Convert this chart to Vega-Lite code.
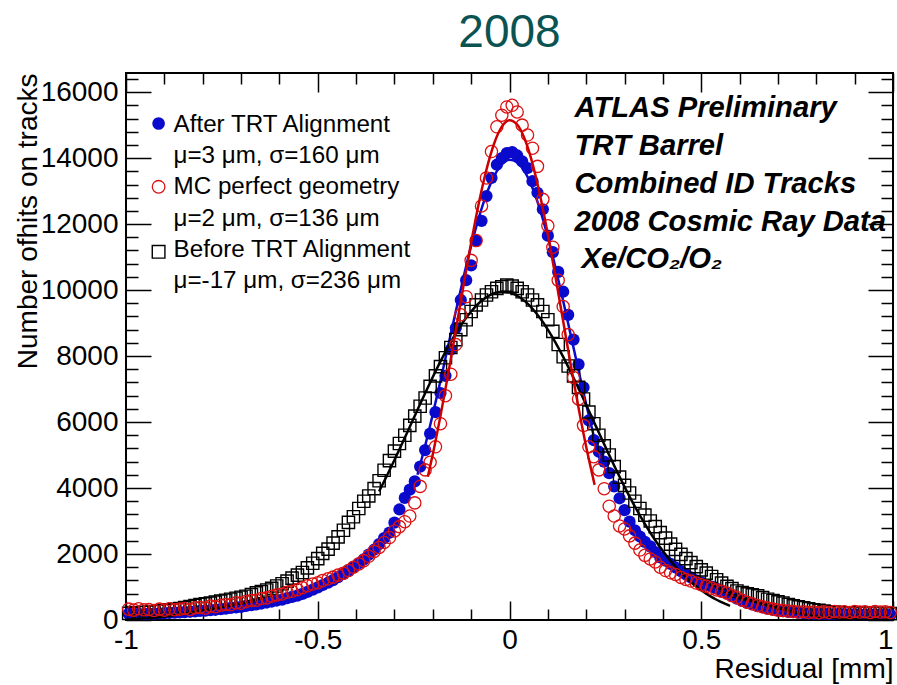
{
  "$schema": "https://vega.github.io/schema/vega-lite/v6.json",
  "width": 767,
  "height": 547,
  "autosize": {"type": "none"},
  "padding": {"left": 126, "top": 73, "right": 4, "bottom": 65},
  "background": "white",
  "title": {"text": "2008", "fontSize": 46, "font": "Liberation Sans", "fontWeight": "normal", "color": "#0b5352", "anchor": "middle", "offset": 8},
  "config": {
    "font": "Liberation Sans",
    "view": {"stroke": "#000", "strokeWidth": 2},
    "axis": {"domain": false, "grid": false, "labelFont": "Liberation Sans", "labelFontSize": 28, "labelColor": "#000", "tickColor": "#000", "tickWidth": 1.5, "titleFont": "Liberation Sans", "titleFontSize": 28, "titleFontWeight": "normal", "titleColor": "#000", "labelOverlap": false, "labelFlush": false, "labelBound": false}
  },
  "datasets": {
    "hist": [
      {"x":-0.993,"after":190,"mc":330,"before":200},
      {"x":-0.980,"after":175,"mc":300,"before":215},
      {"x":-0.967,"after":185,"mc":340,"before":220},
      {"x":-0.953,"after":180,"mc":310,"before":230},
      {"x":-0.940,"after":195,"mc":320,"before":240},
      {"x":-0.927,"after":190,"mc":290,"before":255},
      {"x":-0.913,"after":200,"mc":330,"before":270},
      {"x":-0.900,"after":205,"mc":300,"before":290},
      {"x":-0.887,"after":215,"mc":340,"before":305},
      {"x":-0.873,"after":220,"mc":310,"before":325},
      {"x":-0.860,"after":230,"mc":330,"before":350},
      {"x":-0.847,"after":235,"mc":350,"before":380},
      {"x":-0.833,"after":250,"mc":320,"before":410},
      {"x":-0.820,"after":260,"mc":370,"before":440},
      {"x":-0.807,"after":275,"mc":380,"before":470},
      {"x":-0.793,"after":285,"mc":360,"before":490},
      {"x":-0.780,"after":300,"mc":420,"before":510},
      {"x":-0.767,"after":310,"mc":400,"before":540},
      {"x":-0.753,"after":330,"mc":450,"before":570},
      {"x":-0.740,"after":345,"mc":470,"before":600},
      {"x":-0.727,"after":365,"mc":460,"before":630},
      {"x":-0.713,"after":380,"mc":520,"before":660},
      {"x":-0.700,"after":400,"mc":510,"before":690},
      {"x":-0.687,"after":425,"mc":560,"before":720},
      {"x":-0.673,"after":450,"mc":590,"before":770},
      {"x":-0.660,"after":470,"mc":600,"before":820},
      {"x":-0.647,"after":500,"mc":650,"before":860},
      {"x":-0.633,"after":530,"mc":670,"before":910},
      {"x":-0.620,"after":560,"mc":720,"before":960},
      {"x":-0.607,"after":590,"mc":760,"before":1030},
      {"x":-0.593,"after":620,"mc":790,"before":1100},
      {"x":-0.580,"after":660,"mc":840,"before":1180},
      {"x":-0.567,"after":700,"mc":870,"before":1270},
      {"x":-0.553,"after":740,"mc":920,"before":1360},
      {"x":-0.540,"after":790,"mc":980,"before":1440},
      {"x":-0.527,"after":850,"mc":1040,"before":1580},
      {"x":-0.513,"after":920,"mc":1090,"before":1720},
      {"x":-0.500,"after":990,"mc":1130,"before":1860},
      {"x":-0.487,"after":1060,"mc":1200,"before":2020},
      {"x":-0.473,"after":1130,"mc":1250,"before":2150},
      {"x":-0.460,"after":1210,"mc":1300,"before":2330},
      {"x":-0.447,"after":1300,"mc":1360,"before":2520},
      {"x":-0.433,"after":1400,"mc":1420,"before":2720},
      {"x":-0.420,"after":1490,"mc":1500,"before":2960},
      {"x":-0.407,"after":1600,"mc":1600,"before":3130},
      {"x":-0.393,"after":1720,"mc":1700,"before":3380},
      {"x":-0.380,"after":1840,"mc":1800,"before":3600},
      {"x":-0.367,"after":1980,"mc":1930,"before":3760},
      {"x":-0.353,"after":2130,"mc":2080,"before":3980},
      {"x":-0.340,"after":2300,"mc":2200,"before":4220},
      {"x":-0.327,"after":2480,"mc":2350,"before":4540},
      {"x":-0.313,"after":2650,"mc":2500,"before":4830},
      {"x":-0.300,"after":2950,"mc":2700,"before":5120},
      {"x":-0.287,"after":3350,"mc":2830,"before":5350},
      {"x":-0.273,"after":3700,"mc":2980,"before":5600},
      {"x":-0.260,"after":3950,"mc":3150,"before":5900},
      {"x":-0.247,"after":4200,"mc":3550,"before":6180},
      {"x":-0.233,"after":4650,"mc":4050,"before":6480},
      {"x":-0.220,"after":5150,"mc":4550,"before":6730},
      {"x":-0.207,"after":5650,"mc":4780,"before":7080},
      {"x":-0.193,"after":6300,"mc":5250,"before":7400},
      {"x":-0.180,"after":6880,"mc":5950,"before":7680},
      {"x":-0.167,"after":7400,"mc":6800,"before":7950},
      {"x":-0.153,"after":8200,"mc":7450,"before":8260},
      {"x":-0.140,"after":8850,"mc":8350,"before":8500},
      {"x":-0.127,"after":9700,"mc":9250,"before":8800},
      {"x":-0.113,"after":10300,"mc":9800,"before":9100},
      {"x":-0.100,"after":10750,"mc":10900,"before":9350},
      {"x":-0.087,"after":11500,"mc":11500,"before":9550},
      {"x":-0.073,"after":12100,"mc":12550,"before":9700},
      {"x":-0.060,"after":12850,"mc":13400,"before":9850},
      {"x":-0.047,"after":13400,"mc":14200,"before":9950},
      {"x":-0.033,"after":13800,"mc":14950,"before":10050},
      {"x":-0.020,"after":14000,"mc":15300,"before":10100},
      {"x":-0.007,"after":14150,"mc":15550,"before":10150},
      {"x":0.007,"after":14180,"mc":15600,"before":10120},
      {"x":0.020,"after":14080,"mc":15400,"before":10050},
      {"x":0.033,"after":13900,"mc":15000,"before":9950},
      {"x":0.047,"after":13700,"mc":14700,"before":9850},
      {"x":0.060,"after":13300,"mc":14300,"before":9700},
      {"x":0.073,"after":12950,"mc":13750,"before":9550},
      {"x":0.087,"after":12450,"mc":12750,"before":9350},
      {"x":0.100,"after":11650,"mc":11950,"before":9100},
      {"x":0.113,"after":11150,"mc":11300,"before":8750},
      {"x":0.127,"after":10550,"mc":10300,"before":8350},
      {"x":0.140,"after":9950,"mc":9500,"before":7980},
      {"x":0.153,"after":9250,"mc":8650,"before":7700},
      {"x":0.167,"after":8500,"mc":7350,"before":7400},
      {"x":0.180,"after":7750,"mc":6700,"before":7050},
      {"x":0.193,"after":7050,"mc":5900,"before":6700},
      {"x":0.207,"after":6050,"mc":5250,"before":6300},
      {"x":0.220,"after":5450,"mc":4950,"before":5950},
      {"x":0.233,"after":5100,"mc":4550,"before":5600},
      {"x":0.247,"after":4800,"mc":3980,"before":5280},
      {"x":0.260,"after":4450,"mc":3450,"before":5000},
      {"x":0.273,"after":4050,"mc":3150,"before":4650},
      {"x":0.287,"after":3690,"mc":2850,"before":4330},
      {"x":0.300,"after":3330,"mc":2760,"before":4080},
      {"x":0.313,"after":2980,"mc":2550,"before":3850},
      {"x":0.327,"after":2720,"mc":2330,"before":3600},
      {"x":0.340,"after":2530,"mc":2120,"before":3380},
      {"x":0.353,"after":2370,"mc":1960,"before":3180},
      {"x":0.367,"after":2230,"mc":1850,"before":3000},
      {"x":0.380,"after":2060,"mc":1760,"before":2830},
      {"x":0.393,"after":1900,"mc":1600,"before":2650},
      {"x":0.407,"after":1800,"mc":1500,"before":2480},
      {"x":0.420,"after":1700,"mc":1430,"before":2300},
      {"x":0.433,"after":1590,"mc":1380,"before":2140},
      {"x":0.447,"after":1480,"mc":1290,"before":1990},
      {"x":0.460,"after":1380,"mc":1230,"before":1860},
      {"x":0.473,"after":1290,"mc":1180,"before":1740},
      {"x":0.487,"after":1200,"mc":1120,"before":1620},
      {"x":0.500,"after":1140,"mc":1070,"before":1520},
      {"x":0.513,"after":1060,"mc":1020,"before":1420},
      {"x":0.527,"after":1010,"mc":960,"before":1320},
      {"x":0.540,"after":950,"mc":910,"before":1220},
      {"x":0.553,"after":870,"mc":870,"before":1120},
      {"x":0.567,"after":800,"mc":820,"before":1020},
      {"x":0.580,"after":720,"mc":740,"before":950},
      {"x":0.593,"after":650,"mc":680,"before":880},
      {"x":0.607,"after":580,"mc":600,"before":830},
      {"x":0.620,"after":520,"mc":540,"before":790},
      {"x":0.633,"after":470,"mc":490,"before":760},
      {"x":0.647,"after":420,"mc":440,"before":730},
      {"x":0.660,"after":380,"mc":400,"before":680},
      {"x":0.673,"after":350,"mc":360,"before":630},
      {"x":0.687,"after":310,"mc":330,"before":590},
      {"x":0.700,"after":290,"mc":300,"before":550},
      {"x":0.713,"after":270,"mc":290,"before":510},
      {"x":0.727,"after":250,"mc":270,"before":470},
      {"x":0.740,"after":235,"mc":260,"before":430},
      {"x":0.753,"after":225,"mc":240,"before":400},
      {"x":0.767,"after":210,"mc":250,"before":370},
      {"x":0.780,"after":200,"mc":230,"before":340},
      {"x":0.793,"after":195,"mc":240,"before":310},
      {"x":0.807,"after":190,"mc":220,"before":290},
      {"x":0.820,"after":190,"mc":250,"before":270},
      {"x":0.833,"after":185,"mc":230,"before":250},
      {"x":0.847,"after":180,"mc":260,"before":235},
      {"x":0.860,"after":185,"mc":240,"before":225},
      {"x":0.873,"after":175,"mc":250,"before":215},
      {"x":0.887,"after":180,"mc":230,"before":210},
      {"x":0.900,"after":170,"mc":260,"before":205},
      {"x":0.913,"after":175,"mc":240,"before":200},
      {"x":0.927,"after":165,"mc":250,"before":200},
      {"x":0.940,"after":170,"mc":230,"before":195},
      {"x":0.953,"after":160,"mc":260,"before":200},
      {"x":0.967,"after":165,"mc":240,"before":195},
      {"x":0.980,"after":160,"mc":250,"before":190},
      {"x":0.993,"after":155,"mc":230,"before":195}
    ],
    "fitAfter": [
      {"x":-0.24,"y":4403},{"x":-0.22,"y":5281},{"x":-0.2,"y":6237},{"x":-0.18,"y":7253},{"x":-0.16,"y":8303},
      {"x":-0.14,"y":9356},{"x":-0.12,"y":10382},{"x":-0.1,"y":11340},{"x":-0.08,"y":12194},{"x":-0.06,"y":12909},
      {"x":-0.04,"y":13455},{"x":-0.02,"y":13807},{"x":0,"y":13947},{"x":0.02,"y":13871},{"x":0.04,"y":13582},
      {"x":0.06,"y":13092},{"x":0.08,"y":12425},{"x":0.1,"y":11608},{"x":0.12,"y":10677},{"x":0.14,"y":9669},
      {"x":0.16,"y":8620},{"x":0.18,"y":7565},{"x":0.2,"y":6537},{"x":0.22,"y":5560},{"x":0.24,"y":4658}
    ],
    "fitMC": [
      {"x":-0.213,"y":4342},{"x":-0.2,"y":5027},{"x":-0.18,"y":6187},{"x":-0.16,"y":7452},{"x":-0.14,"y":8784},
      {"x":-0.12,"y":10131},{"x":-0.1,"y":11435},{"x":-0.08,"y":12632},{"x":-0.06,"y":13655},{"x":-0.04,"y":14444},
      {"x":-0.02,"y":14953},{"x":0,"y":15148},{"x":0.02,"y":15018},{"x":0.04,"y":14570},{"x":0.06,"y":13834},
      {"x":0.08,"y":12852},{"x":0.1,"y":11685},{"x":0.12,"y":10397},{"x":0.14,"y":9053},{"x":0.16,"y":7714},
      {"x":0.18,"y":6433},{"x":0.2,"y":5249},{"x":0.222,"y":4095}
    ],
    "fitBefore": [
      {"x":-0.34,"y":3900},{"x":-0.32,"y":4364},{"x":-0.3,"y":4848},{"x":-0.28,"y":5347},{"x":-0.26,"y":5856},
      {"x":-0.24,"y":6367},{"x":-0.22,"y":6873},{"x":-0.2,"y":7366},{"x":-0.18,"y":7839},{"x":-0.16,"y":8281},
      {"x":-0.14,"y":8686},{"x":-0.12,"y":9047},{"x":-0.1,"y":9353},{"x":-0.08,"y":9602},{"x":-0.06,"y":9786},
      {"x":-0.04,"y":9903},{"x":-0.02,"y":9949},{"x":0,"y":9924},{"x":0.02,"y":9829},{"x":0.04,"y":9664},
      {"x":0.06,"y":9435},{"x":0.08,"y":9144},{"x":0.1,"y":8800},{"x":0.12,"y":8407},{"x":0.14,"y":7975},
      {"x":0.16,"y":7510},{"x":0.18,"y":7023},{"x":0.2,"y":6519},{"x":0.22,"y":6010},{"x":0.24,"y":5499},
      {"x":0.26,"y":4997},{"x":0.28,"y":4507},{"x":0.3,"y":4037},{"x":0.32,"y":3590},{"x":0.34,"y":3169},
      {"x":0.36,"y":2778},{"x":0.38,"y":2418},{"x":0.4,"y":2089},{"x":0.42,"y":1792},{"x":0.44,"y":1526},
      {"x":0.46,"y":1291},{"x":0.48,"y":1084},{"x":0.5,"y":903},{"x":0.52,"y":747},{"x":0.54,"y":614},
      {"x":0.56,"y":501},{"x":0.575,"y":428}
    ],
    "one": [{}]
  },
  "resolve": {"axis": {"x": "independent", "y": "independent"}},
  "layer": [
    {
      "data": {"name": "hist"},
      "mark": {"type": "point", "shape": "circle", "filled": true, "size": 150, "color": "#0a0acc", "opacity": 1},
      "encoding": {
        "x": {"field": "x", "type": "quantitative", "scale": {"domain": [-1, 1], "nice": false, "zero": false},
          "axis": {"orient": "bottom", "values": [-1,-0.9,-0.8,-0.7,-0.6,-0.5,-0.4,-0.3,-0.2,-0.1,0,0.1,0.2,0.3,0.4,0.5,0.6,0.7,0.8,0.9,1],
            "tickSize": {"condition": {"test": "abs(datum.value*2-round(datum.value*2))<0.001", "value": -19}, "value": -11},
            "labelPadding": 25,
            "labelAlign": {"condition": {"test": "datum.value === 1", "value": "right"}, "value": "center"},
            "labelExpr": "abs(datum.value*2-round(datum.value*2))<0.001 ? '' + datum.value : ''",
            "title": "Residual [mm]", "titleX": 767, "titleY": 57, "titleAlign": "right", "titleAnchor": "end", "titleBaseline": "alphabetic"}},
        "y": {"field": "after", "type": "quantitative", "scale": {"domain": [0, 16580], "nice": false, "zero": false},
          "axis": {"orient": "left", "values": [0,400,800,1200,1600,2000,2400,2800,3200,3600,4000,4400,4800,5200,5600,6000,6400,6800,7200,7600,8000,8400,8800,9200,9600,10000,10400,10800,11200,11600,12000,12400,12800,13200,13600,14000,14400,14800,15200,15600,16000,16400],
            "tickSize": {"condition": {"test": "datum.value % 2000 === 0", "value": -25}, "value": -12},
            "labelPadding": 33,
            "labelExpr": "datum.value % 2000 === 0 ? '' + datum.value : ''",
            "title": "Number ofhits on tracks", "titleAngle": -90, "titleX": -90, "titleY": 0, "titleAlign": "right", "titleAnchor": "end", "titleBaseline": "alphabetic"}}
      }
    },
    {
      "data": {"name": "fitAfter"},
      "mark": {"type": "line", "color": "#0a0acc", "strokeWidth": 2.5, "interpolate": "monotone"},
      "encoding": {
        "x": {"field": "x", "type": "quantitative", "axis": null},
        "y": {"field": "y", "type": "quantitative", "axis": null}
      }
    },
    {
      "data": {"name": "hist"},
      "mark": {"type": "point", "shape": "square", "filled": false, "size": 150, "color": "#000", "strokeWidth": 1.4, "opacity": 1},
      "encoding": {
        "x": {"field": "x", "type": "quantitative",
          "axis": {"orient": "top", "values": [-1,-0.9,-0.8,-0.7,-0.6,-0.5,-0.4,-0.3,-0.2,-0.1,0,0.1,0.2,0.3,0.4,0.5,0.6,0.7,0.8,0.9,1],
            "tickSize": {"condition": {"test": "abs(datum.value*2-round(datum.value*2))<0.001", "value": -19}, "value": -11},
            "labels": false, "title": null}},
        "y": {"field": "before", "type": "quantitative",
          "axis": {"orient": "right", "values": [0,400,800,1200,1600,2000,2400,2800,3200,3600,4000,4400,4800,5200,5600,6000,6400,6800,7200,7600,8000,8400,8800,9200,9600,10000,10400,10800,11200,11600,12000,12400,12800,13200,13600,14000,14400,14800,15200,15600,16000,16400],
            "tickSize": {"condition": {"test": "datum.value % 2000 === 0", "value": -25}, "value": -12},
            "labels": false, "title": null}}
      }
    },
    {
      "data": {"name": "fitBefore"},
      "mark": {"type": "line", "color": "#000", "strokeWidth": 2.5, "interpolate": "monotone"},
      "encoding": {
        "x": {"field": "x", "type": "quantitative", "axis": null},
        "y": {"field": "y", "type": "quantitative", "axis": null}
      }
    },
    {
      "data": {"name": "hist"},
      "mark": {"type": "point", "shape": "circle", "filled": false, "size": 150, "color": "#dd1111", "strokeWidth": 1.3, "opacity": 1},
      "encoding": {
        "x": {"field": "x", "type": "quantitative", "axis": null},
        "y": {"field": "mc", "type": "quantitative", "axis": null}
      }
    },
    {
      "data": {"name": "fitMC"},
      "mark": {"type": "line", "color": "#cc0000", "strokeWidth": 2.5, "interpolate": "monotone"},
      "encoding": {
        "x": {"field": "x", "type": "quantitative", "axis": null},
        "y": {"field": "y", "type": "quantitative", "axis": null}
      }
    },
    {
      "data": {"name": "one"},
      "mark": {"type": "point", "shape": "circle", "filled": true, "size": 160, "color": "#0a0acc", "opacity": 1},
      "encoding": {
        "x": {"datum": -0.915, "type": "quantitative", "axis": null},
        "y": {"datum": 15050, "type": "quantitative", "axis": null}
      }
    },
    {
      "data": {"name": "one"},
      "mark": {"type": "point", "shape": "circle", "filled": false, "size": 160, "color": "#dd1111", "strokeWidth": 1.3, "opacity": 1},
      "encoding": {
        "x": {"datum": -0.915, "type": "quantitative", "axis": null},
        "y": {"datum": 13130, "type": "quantitative", "axis": null}
      }
    },
    {
      "data": {"name": "one"},
      "mark": {"type": "point", "shape": "square", "filled": false, "size": 160, "color": "#000", "strokeWidth": 1.4, "opacity": 1},
      "encoding": {
        "x": {"datum": -0.915, "type": "quantitative", "axis": null},
        "y": {"datum": 11160, "type": "quantitative", "axis": null}
      }
    },
    {
      "data": {"name": "one"},
      "mark": {"type": "text", "align": "left", "baseline": "alphabetic", "font": "Liberation Sans", "fontSize": 24.2, "lineHeight": 31.3, "color": "#000"},
      "encoding": {
        "x": {"datum": -0.876, "type": "quantitative", "axis": null},
        "y": {"datum": 14797, "type": "quantitative", "axis": null},
        "text": {"value": ["After TRT Alignment", "μ=3 μm, σ=160 μm", "MC perfect geometry", "μ=2 μm, σ=136 μm", "Before TRT Alignment", "μ=-17 μm, σ=236 μm"]}
      }
    },
    {
      "data": {"name": "one"},
      "mark": {"type": "text", "align": "left", "baseline": "alphabetic", "font": "Liberation Sans", "fontSize": 29.2, "fontWeight": "bold", "fontStyle": "italic", "lineHeight": 38, "color": "#000"},
      "encoding": {
        "x": {"datum": 0.1695, "type": "quantitative", "axis": null},
        "y": {"datum": 15252, "type": "quantitative", "axis": null},
        "text": {"value": ["ATLAS Preliminary", "TRT Barrel", "Combined ID Tracks", "2008 Cosmic Ray Data"]}
      }
    },
    {
      "data": {"name": "one"},
      "mark": {"type": "text", "align": "left", "baseline": "alphabetic", "font": "Liberation Sans", "fontSize": 29.2, "fontWeight": "bold", "fontStyle": "italic", "color": "#000"},
      "encoding": {
        "x": {"datum": 0.1877, "type": "quantitative", "axis": null},
        "y": {"datum": 10667, "type": "quantitative", "axis": null},
        "text": {"value": "Xe/CO₂/O₂"}
      }
    }
  ]
}
